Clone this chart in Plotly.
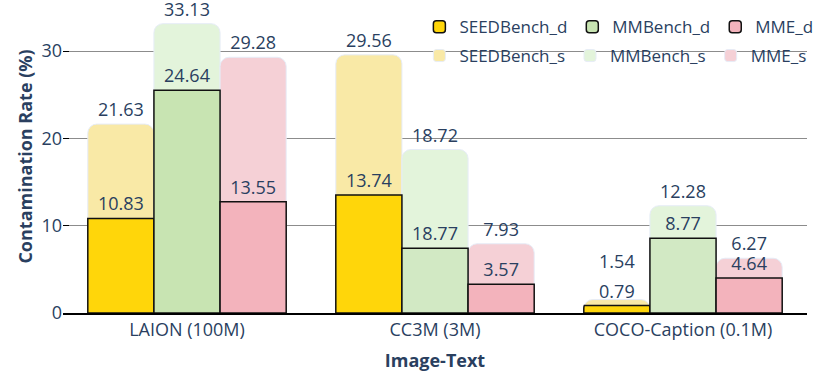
import plotly.graph_objects as go

categories = ["LAION (100M)", "CC3M (3M)", "COCO-Caption (0.1M)"]

# "_s" series (light bars at the back)
seed_s = [21.63, 29.56, 1.54]
mmb_s = [33.13, 18.72, 12.28]
mme_s = [29.28, 7.93, 6.27]

# "_d" series: bar heights as drawn in the source, labels as printed
seed_d = [10.83, 13.5, 0.85]
mmb_d = [25.5, 7.4, 8.55]
mme_d = [12.75, 3.3, 4.0]
seed_d_text = ["10.83", "13.74", "0.79"]
mmb_d_text = ["24.64", "18.77", "8.77"]
mme_d_text = ["13.55", "3.57", "4.64"]

FONT = "Open Sans, sans-serif"
TXT = "#2a3f5f"
FS = 18

fig = go.Figure()

s_series = [
    ("SEEDBench_s", seed_s, "#F9E9A6", "seed"),
    ("MMBench_s", mmb_s, "#E3F4DB", "mmb"),
    ("MME_s", mme_s, "#F5D0D6", "mme"),
]
for i, (name, vals, col, grp) in enumerate(s_series):
    labels = [f"{v:.2f}" for v in vals]
    if name == "SEEDBench_s":
        # lift the tiny COCO label above the _d label
        labels[2] = labels[2] + "<br> "
    fig.add_trace(go.Bar(
        x=categories, y=vals, name=name, offsetgroup=grp,
        marker=dict(color=col, line=dict(color="#E6ECF7", width=1), cornerradius=9),
        text=labels, textposition="outside", constraintext="none",
        textfont=dict(size=FS, color=TXT), cliponaxis=False,
        legend="legend2", legendrank=i,
    ))

d_series = [
    ("SEEDBench_d", seed_d, "#FFD60A", "seed", seed_d_text),
    ("MMBench_d", mmb_d, ["#C8E4B2", "#D2E9C4", "#D2E9C4"], "mmb", mmb_d_text),
    ("MME_d", mme_d, "#F3B3BC", "mme", mme_d_text),
]
for i, (name, vals, col, grp, txt) in enumerate(d_series):
    fig.add_trace(go.Bar(
        x=categories, y=vals, name=name, offsetgroup=grp,
        marker=dict(color=col, line=dict(color="#111111", width=1.5), cornerradius=9),
        text=txt, textposition="outside", constraintext="none",
        textfont=dict(size=FS, color=TXT), cliponaxis=False,
        legend="legend", legendrank=i,
    ))

fig.update_layout(
    width=830, height=391,
    barmode="group", bargap=0.2, bargroupgap=0,
    plot_bgcolor="white", paper_bgcolor="white",
    font=dict(family=FONT, size=FS, color=TXT),
    margin=dict(l=63, r=23, t=0, b=78),
    legend=dict(orientation="h", x=0.479, xanchor="left", y=0.913, yanchor="middle",
                font=dict(size=17), bgcolor="rgba(0,0,0,0)", traceorder="normal"),
    legend2=dict(orientation="h", x=0.479, xanchor="left", y=0.821, yanchor="middle",
                 font=dict(size=17), bgcolor="rgba(0,0,0,0)", traceorder="normal"),
)

fig.update_xaxes(
    title=dict(text="<b>Image-Text</b>", font=dict(size=FS), standoff=14),
    showline=True, linecolor="black", linewidth=1.5,
    tickfont=dict(size=FS),
)
fig.update_yaxes(
    title=dict(text="<b>Contamination Rate (%)</b>", font=dict(size=FS), standoff=4),
    range=[0, 35.84], tickvals=[0, 10, 20, 30],
    showgrid=True, gridcolor="#8c8c8c", gridwidth=1,
    zeroline=False, ticks="inside", ticklen=6, tickcolor="black",
    tickfont=dict(size=FS),
)

# drop the default page margin so the figure sits at the window's corner
fig.write_html("out.html", config={"displayModeBar": False},
               post_script="document.body.style.margin='0px';")
